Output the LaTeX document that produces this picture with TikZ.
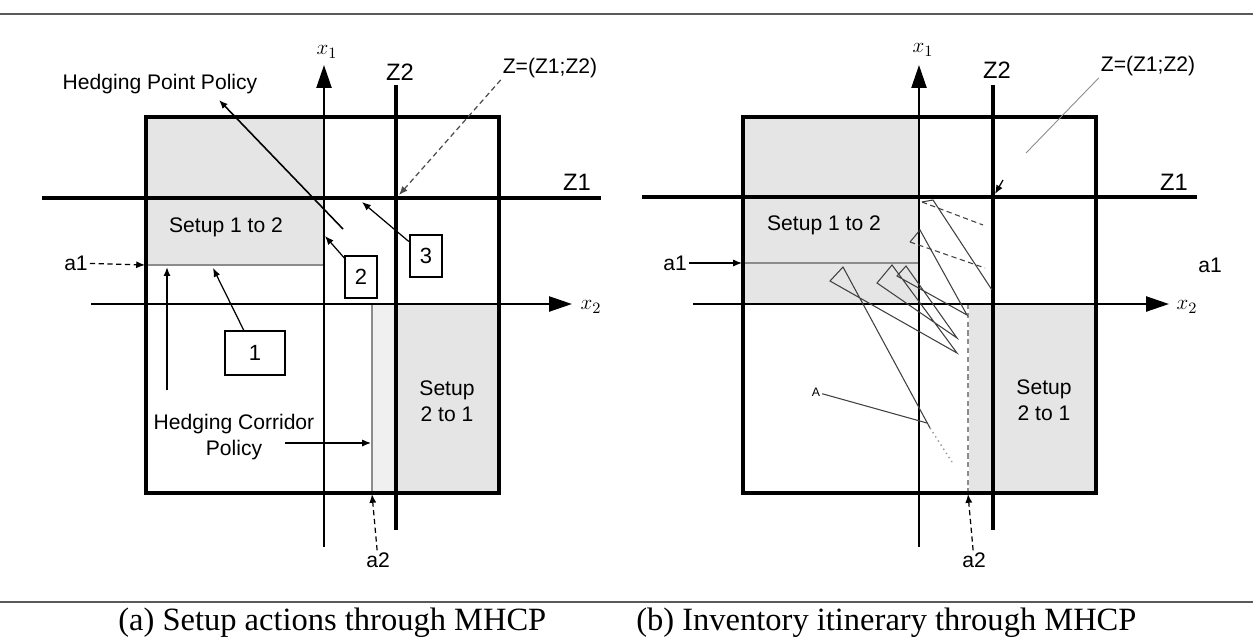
\documentclass[tikz,border=0pt]{standalone}
\usepackage{fontspec}
\setmainfont{Liberation Serif}
\setsansfont{Liberation Sans}
\usetikzlibrary{arrows.meta}

\tikzset{
  frame/.style={line width=1.8pt},
  zline/.style={line width=1.8pt},
  axis/.style={line width=1.3pt, -{Triangle[length=13pt,width=8.5pt]}},
  pointer/.style={line width=0.7pt, -{Latex[length=5pt,width=4pt]}},
  leader/.style={pointer, densely dashed},
  lbl/.style={font=\sffamily\fontsize{12}{13}\selectfont, inner sep=1pt},
  zlbl/.style={font=\sffamily\fontsize{13.5}{14}\selectfont, inner sep=1pt},
  axlbl/.style={font=\fontsize{12.5}{13}\selectfont, inner sep=0pt},
  numbox/.style={draw, line width=1pt, font=\sffamily\fontsize{12.5}{13}\selectfont, inner sep=0pt},
  setupfill/.style={fill=black!10},
  thinline/.style={black!45, line width=0.7pt},
  traj/.style={line width=0.6pt, black!75},
  caption/.style={font=\fontsize{18.5}{20}\selectfont, inner sep=0pt, anchor=base west},
}

\begin{document}
\begin{tikzpicture}[x=0.02cm, y=-0.02cm]
    \useasboundingbox (0,0) rectangle (1253,636);
    \fill[white] (0,0) rectangle (1253,636);

    \draw[line width=1.2pt, black!65] (0,14) -- (1253,14);
    \draw[line width=1.2pt, black!65] (0,602) -- (1253,602);

    % (a) setup actions
    \fill[setupfill] (146,117) rectangle (324,265);
    \fill[black!6] (372,304) rectangle (396,493);
    \fill[setupfill] (396,304) rectangle (499,493);
    \draw[thinline] (146,265) -- (324,265);
    \draw[thinline] (372,304) -- (372,493);
    \draw[frame] (146,117) rectangle (499,493);
    \draw[axis] (324,547) -- (324,65);
    \draw[axis] (91,304) -- (572,304);
    \draw[zline] (396,85) -- (396,530);
    \draw[zline] (42,198) -- (601,198);

    \node[axlbl] (ax1) at (327,52) {$x_1$};
    \node[axlbl] (ax2) at (591,307) {$x_2$};
    \node[zlbl] (aZ2) at (400,72) {Z2};
    \node[zlbl] (aZ1) at (577,182) {Z1};
    \node[lbl] (aZ) at (550,68) {Z=(Z1;Z2)};
    \node[lbl] (ahpp) at (160,84) {Hedging Point Policy};
    \node[lbl] (as12) at (226,227) {Setup 1 to 2};
    \node[lbl, align=center] (as21) at (447,401) {Setup\\[2pt]2 to 1};
    \node[lbl] (aa1) at (76,263) {a1};
    \node[lbl] (aa2) at (378,560) {a2};
    \node[lbl] (ahc) at (234,424) {Hedging Corridor};
    \node[lbl] (apol) at (234,450) {Policy};
    \node[numbox, minimum width=34pt, minimum height=25pt] (abox1) at (255,353) {1};
    \node[numbox, minimum width=18pt, minimum height=24pt] (abox2) at (361,277) {2};
    \node[numbox, minimum width=18.5pt, minimum height=24pt] (abox3) at (426,256) {3};

    \coordinate (aZpt) at (399,195);
    \coordinate (ahpptail) at (343,229);
    \coordinate (ahpptip) at (219,100);
    \coordinate (atip1) at (213,268);
    \coordinate (atip2) at (325,236);
    \coordinate (atip3) at (362,202);
    \coordinate (ahcstart) at (285,443);
    \coordinate (ahctip) at (371,443);
    \coordinate (avstart) at (167,390);
    \coordinate (avtip) at (167,267);
    \coordinate (aa1tip) at (145,265);
    \coordinate (aa2tip) at (372,494);

    \draw[pointer, line width=0.9pt] (ahpptail) -- (ahpptip);
    \draw[leader, black!70] (aZ.south west) -- (aZpt);
    \draw[pointer] (abox1) -- (atip1);
    \draw[pointer] (abox2) -- (atip2);
    \draw[pointer] (abox3) -- (atip3);
    \draw[pointer] (ahcstart) -- (ahctip);
    \draw[pointer, line width=1pt] (avstart) -- (avtip);
    \draw[leader] (aa1) -- (aa1tip);
    \draw[leader] (aa2) -- (aa2tip);

    % (b) inventory itinerary
    \fill[setupfill] (743,117) rectangle (919,304);
    \fill[setupfill] (969,304) rectangle (1096,493);
    \draw[thinline] (743,263) -- (919,263);
    \draw[thinline, densely dashed] (968,304) -- (968,493);
    \draw[frame] (743,117) rectangle (1096,493);
    \draw[axis] (919,547) -- (919,65);
    \draw[axis] (693,304) -- (1169,304);
    \draw[zline] (993,85) -- (993,530);
    \draw[zline] (642,197) -- (1197,197);

    \draw[traj] (930,428) -- (843,267) -- (830,281) -- (957,353) -- (892,265) -- (877,283)
        -- (957,338) -- (906,266) -- (897,276) -- (967,315) -- (920,230) -- (910,242);
    \draw[traj, densely dashed] (910,242) -- (985,268);
    \draw[traj] (992,290) -- (933,200) -- (922,202);
    \draw[traj, densely dashed] (922,202) -- (983,225);
    \draw[black!40, dotted, line width=0.8pt] (930,428) -- (952,462);

    \node[axlbl] (bx1) at (923,50) {$x_1$};
    \node[axlbl] (bx2) at (1187,307) {$x_2$};
    \node[zlbl] (bZ2) at (997,70) {Z2};
    \node[zlbl] (bZ1) at (1174,182) {Z1};
    \node[lbl] (bZ) at (1148,66) {Z=(Z1;Z2)};
    \node[lbl] (bs12) at (824,225) {Setup 1 to 2};
    \node[lbl, align=center] (bs21) at (1044,400) {Setup\\[2pt]2 to 1};
    \node[lbl] (ba1) at (675,263) {a1};
    \node[lbl] (ba1r) at (1210,265) {a1};
    \node[lbl] (ba2) at (974,560) {a2};
    \node[font=\sffamily\fontsize{7}{8}\selectfont, inner sep=1pt] (bA) at (816,392) {A};

    \coordinate (bZend) at (1026,153);
    \coordinate (bZtail) at (1003,180);
    \coordinate (bZpt) at (995,194);
    \coordinate (bAtip) at (927,423);
    \coordinate (ba1tip) at (742,263);
    \coordinate (ba2tip) at (968,494);

    \draw[black!45, line width=0.5pt] (bZ.south west) -- (bZend);
    \draw[pointer] (bZtail) -- (bZpt);
    \draw[traj] (bA) -- (bAtip);
    \draw[pointer] (ba1) -- (ba1tip);
    \draw[leader] (ba2) -- (ba2tip);

    \node[caption] (capa) at (118,630) {(a) Setup actions through MHCP};
    \node[caption] (capb) at (636,630) {(b) Inventory itinerary through MHCP};
\end{tikzpicture}
\end{document}
